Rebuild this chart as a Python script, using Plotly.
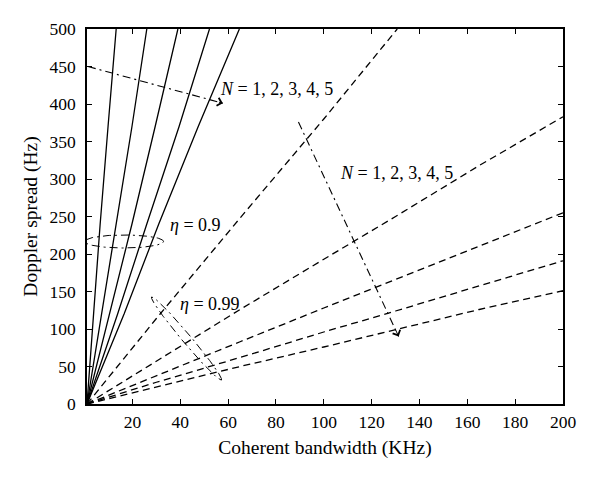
import numpy as np
import plotly.graph_objects as go

# ---- data ----
# solid curves (eta = 0.9), N = 1..5
solid_y = [0, 120, 240, 370, 500]
solid_x = {
    1: [1, 3.6, 6.5, 9.8, 13.2],
    2: [1, 7.2, 13.3, 19.8, 26.0],
    3: [1, 10.5, 19.8, 29.5, 39.0],
    4: [1, 13.8, 26.0, 39.5, 52.2],
    5: [1, 16.5, 31.0, 47.5, 64.7],
}
# dashed curves (eta = 0.99), N = 1..5
dashed_x = [1, 30, 65, 100, 130, 165, 200]
dashed_y = {
    1: [0, 114, 248, 380, 500],
    2: [0, 57, 126, 193, 250, 318, 383],
    3: [0, 38, 83, 128, 166, 211, 255],
    4: [0, 29, 62, 96, 124, 158, 191],
    5: [0, 23, 50, 76, 99, 126, 151],
}
dashed1_x = [1, 30, 65, 100, 130.7]

# dash-dot arrows (start -> tip)
arrow1_x = [1.4, 57.8]
arrow1_y = [450, 401]
arrow2_x = [89.4, 131.3]
arrow2_y = [376, 90]

# ellipse markers (center, half-axis vectors in data units)
ell09_center = (16.5, 216.7)
ell09_major = (16.5, 0.0)
ell09_minor = (0.0, 8.7)
ell099_center = (42.6, 87.3)
ell099_major = (14.6, -55.35)
ell099_minor = (1.4, 3.8)

# labels
label_N1 = ("<i>N</i> = 1, 2, 3, 4, 5", 80.1, 420)
label_N2 = ("<i>N</i> = 1, 2, 3, 4, 5", 130.3, 308)
label_e09 = ("<i>η</i> = 0.9", 46.5, 239)
label_e099 = ("<i>η</i> = 0.99", 52.6, 134)

x_ticks = [20, 40, 60, 80, 100, 120, 140, 160, 180, 200]
y_ticks = [0, 50, 100, 150, 200, 250, 300, 350, 400, 450, 500]

FONT = "Liberation Serif"
LW = 1.3
DASH = "7px,4.5px"
DASHDOT = "8px,4px,2px,4px"

fig = go.Figure()

for n, xs in solid_x.items():
    fig.add_trace(go.Scatter(x=xs, y=solid_y, mode="lines",
                             line=dict(color="black", width=LW), hoverinfo="skip"))

for n, ys in dashed_y.items():
    xs = dashed1_x if n == 1 else dashed_x
    fig.add_trace(go.Scatter(x=xs, y=ys, mode="lines",
                             line=dict(color="black", width=LW, dash=DASH), hoverinfo="skip"))

for ax_, ay_ in [(arrow1_x, arrow1_y), (arrow2_x, arrow2_y)]:
    fig.add_trace(go.Scatter(x=ax_, y=ay_, mode="lines",
                             line=dict(color="black", width=1.1, dash=DASHDOT), hoverinfo="skip"))

t = np.linspace(0, 2 * np.pi, 181)
for c, ma, mi in [(ell09_center, ell09_major, ell09_minor),
                  (ell099_center, ell099_major, ell099_minor)]:
    ex = c[0] + np.cos(t) * ma[0] + np.sin(t) * mi[0]
    ey = c[1] + np.cos(t) * ma[1] + np.sin(t) * mi[1]
    fig.add_trace(go.Scatter(x=ex, y=ey, mode="lines",
                             line=dict(color="black", width=1.0, dash=DASHDOT), hoverinfo="skip"))

# arrow heads
for ax_, ay_ in [(arrow1_x, arrow1_y), (arrow2_x, arrow2_y)]:
    tx, ty = ax_[1], ay_[1]
    bx = tx - 0.04 * (ax_[1] - ax_[0])
    by = ty - 0.04 * (ay_[1] - ay_[0])
    fig.add_annotation(x=tx, y=ty, ax=bx, ay=by, xref="x", yref="y",
                       axref="x", ayref="y", text="", showarrow=True,
                       arrowhead=4, arrowsize=1.6, arrowwidth=1.0, arrowcolor="black")

for txt, lx, ly in [label_N1, label_N2, label_e09, label_e099]:
    fig.add_annotation(x=lx, y=ly, text=txt, showarrow=False, xref="x", yref="y",
                       font=dict(family=FONT, size=18, color="black"))

axis_common = dict(showline=True, linecolor="black", linewidth=1.5, mirror="ticks",
                   ticks="inside", ticklen=5, tickwidth=1, tickcolor="black",
                   showgrid=False, zeroline=False,
                   tickfont=dict(family=FONT, size=17.5, color="black"))

fig.update_xaxes(range=[1, 200], tickvals=x_ticks,
                 title=dict(text="Coherent bandwidth (KHz)",
                            font=dict(family=FONT, size=19.5, color="black"), standoff=10),
                 ticklabelstandoff=1, **axis_common)
fig.update_yaxes(range=[0, 500], tickvals=y_ticks,
                 title=dict(text="Doppler spread (Hz)",
                            font=dict(family=FONT, size=19.5, color="black"), standoff=7),
                 ticklabelstandoff=6, **axis_common)

# page body has an 8px default margin; size the figure so the plot box lands where the reference has it
fig.update_layout(width=592, height=473, showlegend=False,
                  margin=dict(l=79, r=37, t=21, b=77),
                  paper_bgcolor="white", plot_bgcolor="white")

fig.write_html("out.html")
